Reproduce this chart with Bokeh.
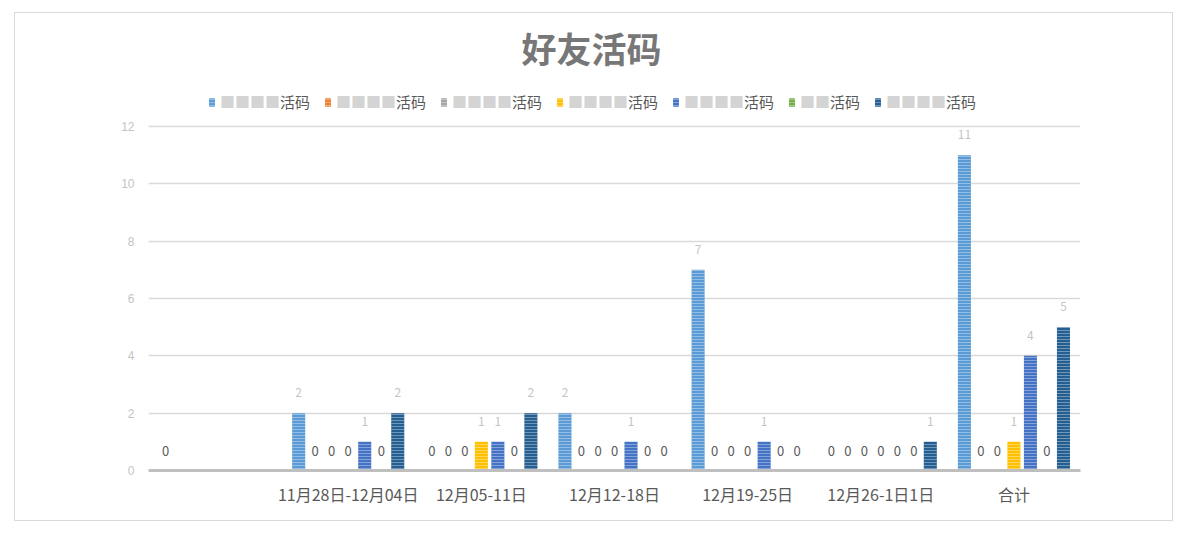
import math
from bokeh.plotting import figure
from bokeh.models import ColumnDataSource, FactorRange, Legend, LegendItem, Label, FixedTicker
from bokeh.transform import dodge
from bokeh.core.properties import value
from bokeh.embed import file_html
from bokeh.resources import INLINE

categories = [" ", "11月28日-12月04日", "12月05-11日", "12月12-18日", "12月19-25日", "12月26-1日1日", "合计"]
# series names are blurred in the source: masked part drawn as light blocks, then "活码"
name_mask = ["■■■■", "■■■■", "■■■■", "■■■■", "■■■■", "■■", "■■■■"]
name_suffix = "活码"
nan = float("nan")
s1 = [0, 2, 0, 2, 7, 0, 11]
s2 = [nan, 0, 0, 0, 0, 0, 0]
s3 = [nan, 0, 0, 0, 0, 0, 0]
s4 = [nan, 0, 1, 0, 0, 0, 1]
s5 = [nan, 1, 1, 1, 1, 0, 4]
s6 = [nan, 0, 0, 0, 0, 0, 0]
s7 = [nan, 2, 2, 0, 0, 1, 5]
series = [s1, s2, s3, s4, s5, s6, s7]
colors = ["#5B9BD5", "#ED7D31", "#A5A5A5", "#FFC000", "#4472C4", "#70AD47", "#255E91"]
y_ticks = [0, 2, 4, 6, 8, 10, 12]

FONT = "Microsoft YaHei, Noto Sans CJK SC"
CJK = "Noto Sans CJK SC"

# frame spans canvas top down to the axis; values above 12 hold the title and legend
FRAME_H = 457
Y_TOP = 12 * FRAME_H / 344.0

p = figure(x_range=FactorRange(*categories), y_range=(0, Y_TOP), width=1159, height=509,
           output_backend="svg", toolbar_location=None,
           min_border_left=133, min_border_right=94, min_border_top=0, min_border_bottom=52)
p.styles = {"border": "1px solid #d9d9d9", "margin-left": "14px", "margin-top": "12px"}
p.outline_line_color = None
p.background_fill_color = "white"
p.border_fill_color = "white"

step = 0.124
bw = 0.098
items_text, items_mask = [], []
for i, (vals, col, mask) in enumerate(zip(series, colors, name_mask)):
    off = (i - 3) * step
    src = ColumnDataSource(dict(cat=categories, val=vals))
    r = p.vbar(x=dodge("cat", off, range=p.x_range), top="val", width=bw, source=src,
               fill_color=col, line_color=None,
               hatch_pattern="horizontal_line", hatch_color="white", hatch_alpha=0.35,
               hatch_scale=3, hatch_weight=1)
    items_text.append(LegendItem(label="\u3000" * len(mask) + name_suffix, renderers=[r]))
    items_mask.append(LegendItem(label=mask + "\u3000" * len(name_suffix), renderers=[r]))
    zc, zv, nc, nv = [], [], [], []
    for c, v in zip(categories, vals):
        if isinstance(v, float) and math.isnan(v):
            continue
        if v == 0:
            zc.append(c); zv.append(v)
        else:
            nc.append(c); nv.append(v)
    zs = ColumnDataSource(dict(cat=zc, val=zv, txt=[str(int(v)) for v in zv]))
    ns = ColumnDataSource(dict(cat=nc, val=nv, txt=[str(int(v)) for v in nv]))
    p.text(x=dodge("cat", off, range=p.x_range), y="val", text="txt", source=zs,
           text_align="center", text_baseline="bottom", y_offset=-15,
           text_font=value(FONT), text_font_size="13px", text_color="#595959")
    p.text(x=dodge("cat", off, range=p.x_range), y="val", text="txt", source=ns,
           text_align="center", text_baseline="bottom", y_offset=-16,
           text_font=value(FONT), text_font_size="12px", text_color="#c4c4c4")

common = dict(orientation="horizontal", location=(60, 358), padding=0, margin=0, spacing=14,
              label_standoff=5, glyph_width=7, glyph_height=10,
              label_text_font=CJK, label_text_font_size="15px",
              border_line_alpha=0, background_fill_alpha=0)
p.add_layout(Legend(items=items_text, label_text_color="#595959", **common))
p.add_layout(Legend(items=items_mask, label_text_color="#d4d4d4", **common))

p.add_layout(Label(x=443, y=FRAME_H - 34, x_units="screen", y_units="screen", text="好友活码",
                   text_align="center", text_baseline="middle", text_font=FONT,
                   text_font_size="35px", text_font_style="bold", text_color="#777777"))

p.xgrid.grid_line_color = None
p.ygrid.grid_line_color = "#d9d9d9"
p.ygrid.grid_line_width = 1.5
p.yaxis.ticker = FixedTicker(ticks=y_ticks)
p.yaxis.axis_line_color = None
p.yaxis.major_tick_line_color = None
p.yaxis.minor_tick_line_color = None
p.yaxis.major_label_text_color = "#c4c4c4"
p.yaxis.major_label_text_font_size = "12px"
p.yaxis.major_label_standoff = 8
p.xaxis.axis_line_color = "#bfbfbf"
p.xaxis.axis_line_width = 3
p.xaxis.major_tick_line_color = None
p.xaxis.minor_tick_line_color = None
p.xaxis.major_label_text_color = "#595959"
p.xaxis.major_label_text_font = FONT
p.xaxis.major_label_text_font_size = "16px"
p.xaxis.major_label_standoff = 5
p.x_range.range_padding = 0
p.x_range.group_padding = 0

open("out.html", "w").write(file_html(p, INLINE))
